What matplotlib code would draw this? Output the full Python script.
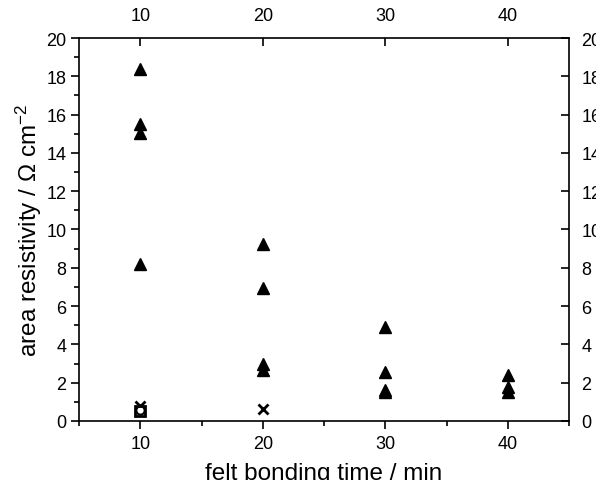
import matplotlib
matplotlib.use("Agg")
import matplotlib.pyplot as plt
from matplotlib.ticker import MultipleLocator
from matplotlib import lines as mlines

plt.rcParams['font.family'] = ['Liberation Sans', 'DejaVu Sans']
plt.rcParams['mathtext.fontset'] = 'custom'
plt.rcParams['mathtext.rm'] = 'Liberation Sans'
plt.rcParams['mathtext.it'] = 'Liberation Sans:italic'

# data
tri_x = [10, 10, 10, 10, 20, 20, 20, 20, 30, 30, 30, 30, 40, 40, 40]
tri_y = [18.4, 15.5, 15.05, 8.2, 9.25, 6.95, 2.95, 2.65, 4.9, 2.55, 1.6, 1.5, 2.4, 1.75, 1.5]
cross_x = [10, 20]
cross_y = [0.78, 0.62]
sq_x = [10]
sq_y = [0.5]
circ_x = [10]
circ_y = [0.55]

fig = plt.figure(figsize=(5.96, 4.81), dpi=100)
ax = fig.add_axes([0.1326, 0.1227, 0.8221, 0.7962])

ax.plot(tri_x, tri_y, linestyle='none', marker='^', color='black', markersize=8.5)
ax.plot(cross_x, cross_y, linestyle='none', marker='x', color='black', markersize=6.5, markeredgewidth=2)
ax.plot(sq_x, sq_y, linestyle='none', marker='s', markerfacecolor='white', markeredgecolor='black', markersize=6.5, markeredgewidth=2)
ax.plot(circ_x, circ_y, linestyle='none', marker='o', markerfacecolor='none', markeredgecolor='black', markersize=6, markeredgewidth=1.5)

ax.set_xlim(5, 45)
ax.set_ylim(0, 20)
ax.set_xticks([10, 20, 30, 40])
ax.xaxis.set_minor_locator(MultipleLocator(5))
ax.yaxis.set_major_locator(MultipleLocator(2))
ax.yaxis.set_minor_locator(MultipleLocator(1))

ax.tick_params(axis='both', which='both', labelsize=13, width=1.2, color='black', direction='out')
ax.tick_params(axis='x', which='major', bottom=True, top=True, labelbottom=True, labeltop=True, length=6, pad=4)
ax.tick_params(axis='y', which='major', left=True, right=True, labelleft=True, labelright=True, length=6, pad=3)
ax.tick_params(axis='both', which='minor', length=3.5)

# top and right ticks point inward
for t in ax.xaxis.get_major_ticks() + ax.xaxis.get_minor_ticks():
    t.tick2line.set_marker(mlines.TICKDOWN)
for t in ax.yaxis.get_major_ticks() + ax.yaxis.get_minor_ticks():
    t.tick2line.set_marker(mlines.TICKLEFT)

for s in ax.spines.values():
    s.set_linewidth(1.2)

ax.set_xlabel('felt bonding time / min', fontsize=17.5, labelpad=7)
ax.set_ylabel('area resistivity / $\\Omega$ cm$^{-2}$', fontsize=17.5, labelpad=2)

fig.savefig('out.png', dpi=100)
